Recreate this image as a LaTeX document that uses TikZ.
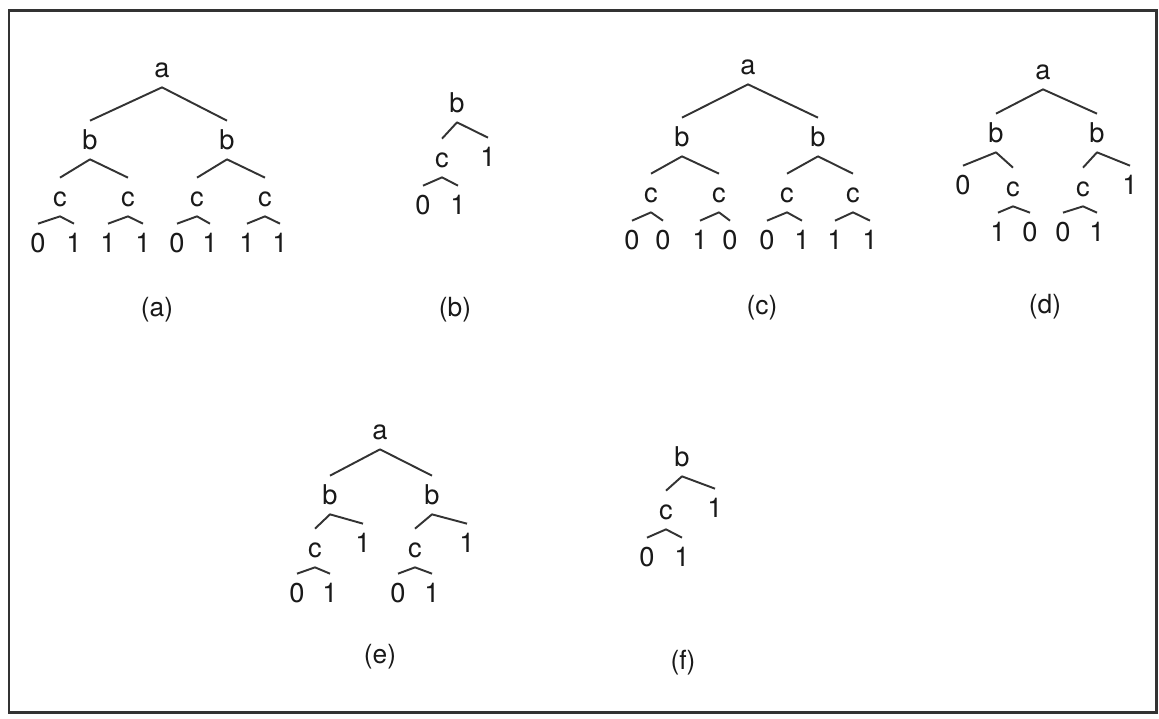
\documentclass[tikz,border=0pt]{standalone}
\usepackage{fontspec}
\setmainfont{TeX Gyre Heros}
\definecolor{inkgray}{HTML}{333333}
\tikzset{
    sym/.style={inner sep=0pt, minimum height=0.76cm, text height=0.38cm, text depth=0pt,
        font=\fontsize{15.5}{18}\selectfont, text=black!90},
    subcap/.style={inner sep=0pt, font=\fontsize{15}{18}\selectfont, text=black!90},
    roof/.style={draw=inkgray, line width=1.1pt, line join=round},
    frame/.style={draw=inkgray, line width=1.7pt}
}
\begin{document}
\begin{tikzpicture}[x=0.02cm, y=-0.02cm]
            \useasboundingbox (0, 0) rectangle (1159, 718);
            \draw[frame] (9, 10) rectangle (1156, 712);
            % (a)
            \node[sym] (aA) at (162, 68) {a};
            \node[sym] (aB1) at (90, 140) {b};
            \node[sym] (aB2) at (227, 140) {b};
            \node[sym] (aC1) at (60, 197) {c};
            \node[sym] (aC2) at (128, 197) {c};
            \node[sym] (aC3) at (197, 197) {c};
            \node[sym] (aC4) at (265, 197) {c};
            \node[sym] (aL1) at (38, 243) {0};
            \node[sym] (aL2) at (74, 243) {1};
            \node[sym] (aL3) at (108, 243) {1};
            \node[sym] (aL4) at (143, 243) {1};
            \node[sym] (aL5) at (177, 243) {0};
            \node[sym] (aL6) at (210, 243) {1};
            \node[sym] (aL7) at (247, 243) {1};
            \node[sym] (aL8) at (280, 243) {1};
            \node[subcap] (aCap) at (157, 310) {(a)};
            \draw[roof] (aB1.north) -- (aA.south) -- (aB2.north);
            \draw[roof] (aC1.north) -- (aB1.south) -- (aC2.north);
            \draw[roof] (aC3.north) -- (aB2.south) -- (aC4.north);
            \draw[roof] (aL1.north) -- (aC1.south) -- (aL2.north);
            \draw[roof] (aL3.north) -- (aC2.south) -- (aL4.north);
            \draw[roof] (aL5.north) -- (aC3.south) -- (aL6.north);
            \draw[roof] (aL7.north) -- (aC4.south) -- (aL8.north);
            % (b)
            \node[sym] (bB) at (457, 103) {b};
            \node[sym] (bC) at (442, 158) {c};
            \node[sym] (bR) at (488, 157) {1};
            \node[sym] (bL1) at (423, 205) {0};
            \node[sym] (bL2) at (458, 205) {1};
            \node[subcap] (bCap) at (455, 310) {(b)};
            \draw[roof] (bC.north) -- (bB.south) -- (bR.north);
            \draw[roof] (bL1.north) -- (bC.south) -- (bL2.north);
            % (c)
            \node[sym] (cA) at (748, 65) {a};
            \node[sym] (cB1) at (682, 137) {b};
            \node[sym] (cB2) at (818, 137) {b};
            \node[sym] (cC1) at (651, 193) {c};
            \node[sym] (cC2) at (719, 193) {c};
            \node[sym] (cC3) at (787, 193) {c};
            \node[sym] (cC4) at (853, 193) {c};
            \node[sym] (cL1) at (632, 240) {0};
            \node[sym] (cL2) at (663, 240) {0};
            \node[sym] (cL3) at (700, 240) {1};
            \node[sym] (cL4) at (730, 240) {0};
            \node[sym] (cL5) at (767, 240) {0};
            \node[sym] (cL6) at (802, 240) {1};
            \node[sym] (cL7) at (835, 240) {1};
            \node[sym] (cL8) at (870, 240) {1};
            \node[subcap] (cCap) at (762, 308) {(c)};
            \draw[roof] (cB1.north) -- (cA.south) -- (cB2.north);
            \draw[roof] (cC1.north) -- (cB1.south) -- (cC2.north);
            \draw[roof] (cC3.north) -- (cB2.south) -- (cC4.north);
            \draw[roof] (cL1.north) -- (cC1.south) -- (cL2.north);
            \draw[roof] (cL3.north) -- (cC2.south) -- (cL4.north);
            \draw[roof] (cL5.north) -- (cC3.south) -- (cL6.north);
            \draw[roof] (cL7.north) -- (cC4.south) -- (cL8.north);
            % (d)
            \node[sym] (dA) at (1043, 70) {a};
            \node[sym] (dB1) at (996, 133) {b};
            \node[sym] (dB2) at (1097, 133) {b};
            \node[sym] (dL0) at (963, 185) {0};
            \node[sym] (dC1) at (1013, 187) {c};
            \node[sym] (dC2) at (1083, 187) {c};
            \node[sym] (dR1) at (1130, 185) {1};
            \node[sym] (dL1) at (998, 232) {1};
            \node[sym] (dL2) at (1030, 232) {0};
            \node[sym] (dL3) at (1063, 232) {0};
            \node[sym] (dL4) at (1097, 232) {1};
            \node[subcap] (dCap) at (1045, 307) {(d)};
            \draw[roof] (dB1.north) -- (dA.south) -- (dB2.north);
            \draw[roof] (dL0.north) -- (dB1.south) -- (dC1.north);
            \draw[roof] (dC2.north) -- (dB2.south) -- (dR1.north);
            \draw[roof] (dL1.north) -- (dC1.south) -- (dL2.north);
            \draw[roof] (dL3.north) -- (dC2.south) -- (dL4.north);
            % (e)
            \node[sym] (eA) at (380, 430) {a};
            \node[sym] (eB1) at (330, 495) {b};
            \node[sym] (eB2) at (432, 495) {b};
            \node[sym] (eC1) at (315, 548) {c};
            \node[sym] (eR1) at (363, 543) {1};
            \node[sym] (eC2) at (415, 548) {c};
            \node[sym] (eR2) at (467, 543) {1};
            \node[sym] (eL1) at (297, 593) {0};
            \node[sym] (eL2) at (330, 593) {1};
            \node[sym] (eL3) at (398, 593) {0};
            \node[sym] (eL4) at (432, 593) {1};
            \node[subcap] (eCap) at (380, 657) {(e)};
            \draw[roof] (eB1.north) -- (eA.south) -- (eB2.north);
            \draw[roof] (eC1.north) -- (eB1.south) -- (eR1.north);
            \draw[roof] (eC2.north) -- (eB2.south) -- (eR2.north);
            \draw[roof] (eL1.north) -- (eC1.south) -- (eL2.north);
            \draw[roof] (eL3.north) -- (eC2.south) -- (eL4.north);
            % (f)
            \node[sym] (fB) at (682, 457) {b};
            \node[sym] (fC) at (666, 510) {c};
            \node[sym] (fR) at (715, 508) {1};
            \node[sym] (fL1) at (647, 557) {0};
            \node[sym] (fL2) at (682, 557) {1};
            \node[subcap] (fCap) at (683, 663) {(f)};
            \draw[roof] (fC.north) -- (fB.south) -- (fR.north);
            \draw[roof] (fL1.north) -- (fC.south) -- (fL2.north);
\end{tikzpicture}
\end{document}
